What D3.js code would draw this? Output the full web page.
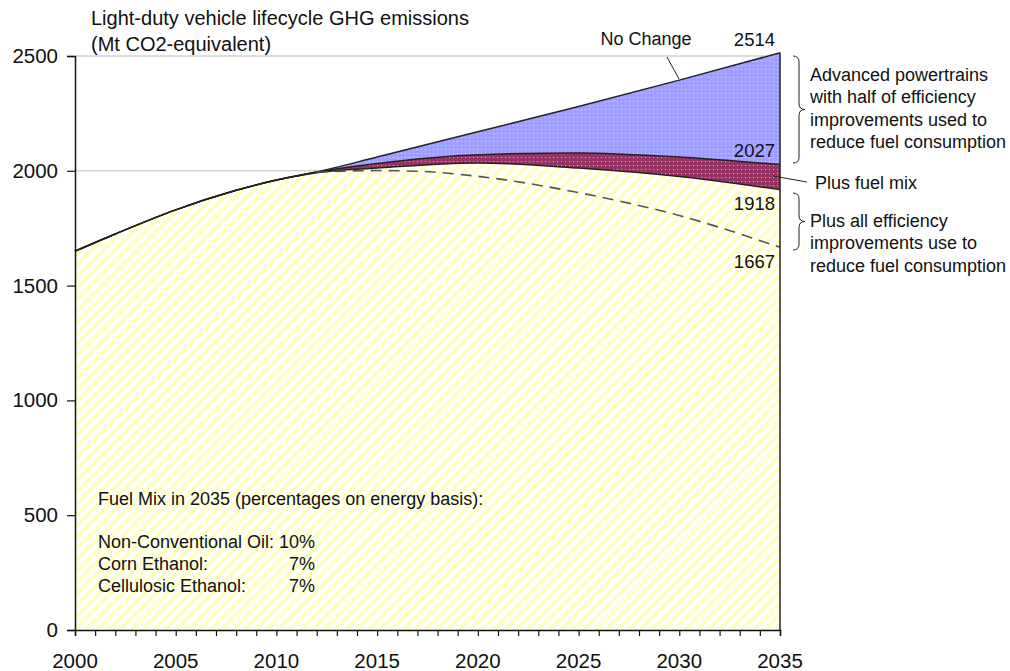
<!DOCTYPE html>
<html>
<head>
<meta charset="utf-8">
<title>LDV lifecycle GHG</title>
<style>
  body { margin: 0; background: #fff; }
  svg text { font-family: "Liberation Sans", Arial, sans-serif; fill: #111; }
</style>
<script src="https://d3js.org/d3.v7.min.js"></script>
</head>
<body>
<script>
// values
var years       = [2000, 2002, 2005, 2008, 2010, 2012, 2015, 2020, 2025, 2030, 2035];
var noChange    = [1650, 1725, 1830, 1915, 1960, 1995, 2060, 2170, 2280, 2395, 2514];
var advanced    = [1650, 1725, 1830, 1915, 1960, 1995, 2032, 2070, 2078, 2060, 2027];
var fuelMix     = [1650, 1725, 1830, 1915, 1960, 1992, 2012, 2034, 2012, 1975, 1918];
var dashYears   = [2012, 2015, 2017, 2020, 2025, 2030, 2035];
var allEff      = [1994, 2001, 1998, 1976, 1905, 1805, 1667];
var yTicks      = [0, 500, 1000, 1500, 2000, 2500];
var xLabels     = [2000, 2005, 2010, 2015, 2020, 2025, 2030, 2035];
var fuelRows    = [["Non-Conventional Oil:", "10%"], ["Corn Ethanol:", "7%"], ["Cellulosic Ethanol:", "7%"]];

var width = 1010, height = 671;
var svg = d3.select("body").append("svg").attr("width", width).attr("height", height);

var x = d3.scaleLinear().domain([2000, 2035]).range([75, 780]);
var y = d3.scaleLinear().domain([0, 2500]).range([630, 56]);

// patterns
var defs = svg.append("defs");
var stripes = defs.append("pattern").attr("id", "stripes")
    .attr("width", 8).attr("height", 8).attr("patternUnits", "userSpaceOnUse")
    .attr("patternTransform", "rotate(45)");
stripes.append("rect").attr("width", 8).attr("height", 8).attr("fill", "#fff");
stripes.append("rect").attr("width", 4).attr("height", 8).attr("fill", "#ffffc4");

function dots(id, bg) {
  var p = defs.append("pattern").attr("id", id)
      .attr("width", 4).attr("height", 4).attr("patternUnits", "userSpaceOnUse");
  p.append("rect").attr("width", 4).attr("height", 4).attr("fill", bg);
  p.append("rect").attr("x", 1).attr("y", 1).attr("width", 1).attr("height", 1).attr("fill", "#fff").attr("opacity", 0.6);
}
dots("blueDots", "#9f9fff");
dots("redDots", "#993366");

// gridlines
svg.append("g").selectAll("line").data(yTicks.slice(1)).enter().append("line")
    .attr("x1", 75).attr("x2", 780)
    .attr("y1", function(d) { return y(d); }).attr("y2", function(d) { return y(d); })
    .attr("stroke", "#bbb").attr("stroke-width", 1);

var curve = d3.curveMonotoneX;
var idx = d3.range(years.length);

var areaBlue = d3.area().curve(curve)
    .x(function(i) { return x(years[i]); })
    .y0(function(i) { return y(advanced[i]); })
    .y1(function(i) { return y(noChange[i]); });
var areaRed = d3.area().curve(curve)
    .x(function(i) { return x(years[i]); })
    .y0(function(i) { return y(fuelMix[i]); })
    .y1(function(i) { return y(advanced[i]); });
var areaYellow = d3.area().curve(curve)
    .x(function(i) { return x(years[i]); })
    .y0(y(0))
    .y1(function(i) { return y(fuelMix[i]); });

svg.append("path").datum(idx).attr("d", areaYellow).attr("fill", "url(#stripes)");
svg.append("path").datum(idx).attr("d", areaRed).attr("fill", "url(#redDots)");
svg.append("path").datum(idx).attr("d", areaBlue).attr("fill", "url(#blueDots)");

function line(arr) {
  return d3.line().curve(curve)
      .x(function(i) { return x(years[i]); })
      .y(function(i) { return y(arr[i]); });
}
[fuelMix, advanced, noChange].forEach(function(arr) {
  svg.append("path").datum(idx).attr("d", line(arr))
      .attr("fill", "none").attr("stroke", "#222").attr("stroke-width", 1.5);
});

// dashed line
svg.append("path").datum(d3.range(dashYears.length))
    .attr("d", d3.line().curve(curve)
        .x(function(i) { return x(dashYears[i]); })
        .y(function(i) { return y(allEff[i]); }))
    .attr("fill", "none").attr("stroke", "#555").attr("stroke-width", 1.6)
    .attr("stroke-dasharray", "11,7");

// right edge
svg.append("line").attr("x1", x(2035)).attr("x2", x(2035))
    .attr("y1", y(0)).attr("y2", y(noChange[noChange.length - 1]))
    .attr("stroke", "#222").attr("stroke-width", 1.5);

// axes
var yAxis = svg.append("g").attr("transform", "translate(75,0)")
    .call(d3.axisLeft(y).tickValues(yTicks).tickSize(8).tickFormat(d3.format("d")));
var xAxis = svg.append("g").attr("transform", "translate(0,630)")
    .call(d3.axisBottom(x).tickValues(d3.range(2000, 2036)).tickSize(6).tickFormat(""));
svg.append("g").selectAll("text").data(xLabels).enter().append("text")
    .attr("x", function(d) { return x(d); }).attr("y", 668)
    .attr("text-anchor", "middle").attr("font-size", 20.5).text(function(d) { return d; });
[yAxis, xAxis].forEach(function(a) {
  a.select(".domain").attr("stroke", "#111").attr("stroke-width", 1.5);
  a.selectAll(".tick line").attr("stroke", "#111").attr("stroke-width", 1.2);
});
yAxis.selectAll(".tick text").attr("font-size", 20.5).attr("x", -17)
    .attr("font-family", "Liberation Sans, Arial, sans-serif").attr("fill", "#111");

// title
svg.append("text").attr("x", 91).attr("y", 25).attr("font-size", 20).text("Light-duty vehicle lifecycle GHG emissions");
svg.append("text").attr("x", 91).attr("y", 51).attr("font-size", 20).text("(Mt CO2-equivalent)");

// end value labels
var endLabels = [[2514, 2514, -7], [2027, 2027, -8], [1918, 1918, 20], [1667, 1667, 21]];
svg.append("g").selectAll("text").data(endLabels).enter().append("text")
    .attr("x", 775).attr("y", function(d) { return y(d[1]) + d[2]; })
    .attr("text-anchor", "end").attr("font-size", 18.5).text(function(d) { return d[0]; });

// No Change label
svg.append("text").attr("x", 646).attr("y", 45).attr("text-anchor", "middle").attr("font-size", 18).text("No Change");
svg.append("line").attr("x1", 667).attr("y1", 57).attr("x2", 679).attr("y2", 79)
    .attr("stroke", "#222").attr("stroke-width", 1);

// braces
function brace(xp, y0, y1) {
  var m = (y0 + y1) / 2;
  return "M" + xp + "," + y0 + " q6,0 6,6 L" + (xp + 6) + "," + (m - 6) +
    " q0,6 6,6 q-6,0 -6,6 L" + (xp + 6) + "," + (y1 - 6) + " q0,6 -6,6";
}
svg.append("path").attr("d", brace(793, 56, 163)).attr("fill", "none").attr("stroke", "#222").attr("stroke-width", 1);
svg.append("path").attr("d", brace(793, 193, 250)).attr("fill", "none").attr("stroke", "#222").attr("stroke-width", 1);

var note1 = ["Advanced powertrains", "with half of efficiency", "improvements used to", "reduce fuel consumption"];
svg.append("g").selectAll("text").data(note1).enter().append("text")
    .attr("x", 810).attr("y", function(d, i) { return 81 + i * 22.3; })
    .attr("font-size", 18).text(function(d) { return d; });

svg.append("line").attr("x1", 773).attr("y1", 176).attr("x2", 807).attr("y2", 182)
    .attr("stroke", "#222").attr("stroke-width", 1);
svg.append("text").attr("x", 815).attr("y", 189).attr("font-size", 18).text("Plus fuel mix");

var note2 = ["Plus all efficiency", "improvements use to", "reduce fuel consumption"];
svg.append("g").selectAll("text").data(note2).enter().append("text")
    .attr("x", 810).attr("y", function(d, i) { return 227 + i * 22.3; })
    .attr("font-size", 18).text(function(d) { return d; });

// fuel mix box
svg.append("text").attr("x", 98).attr("y", 505).attr("font-size", 18)
    .text("Fuel Mix in 2035 (percentages on energy basis):");
var rows = svg.append("g").selectAll("g").data(fuelRows).enter().append("g");
rows.append("text").attr("x", 98).attr("y", function(d, i) { return 548 + i * 22; })
    .attr("font-size", 18).text(function(d) { return d[0]; });
rows.append("text").attr("x", 315).attr("y", function(d, i) { return 548 + i * 22; })
    .attr("text-anchor", "end").attr("font-size", 18).text(function(d) { return d[1]; });
</script>
</body>
</html>
